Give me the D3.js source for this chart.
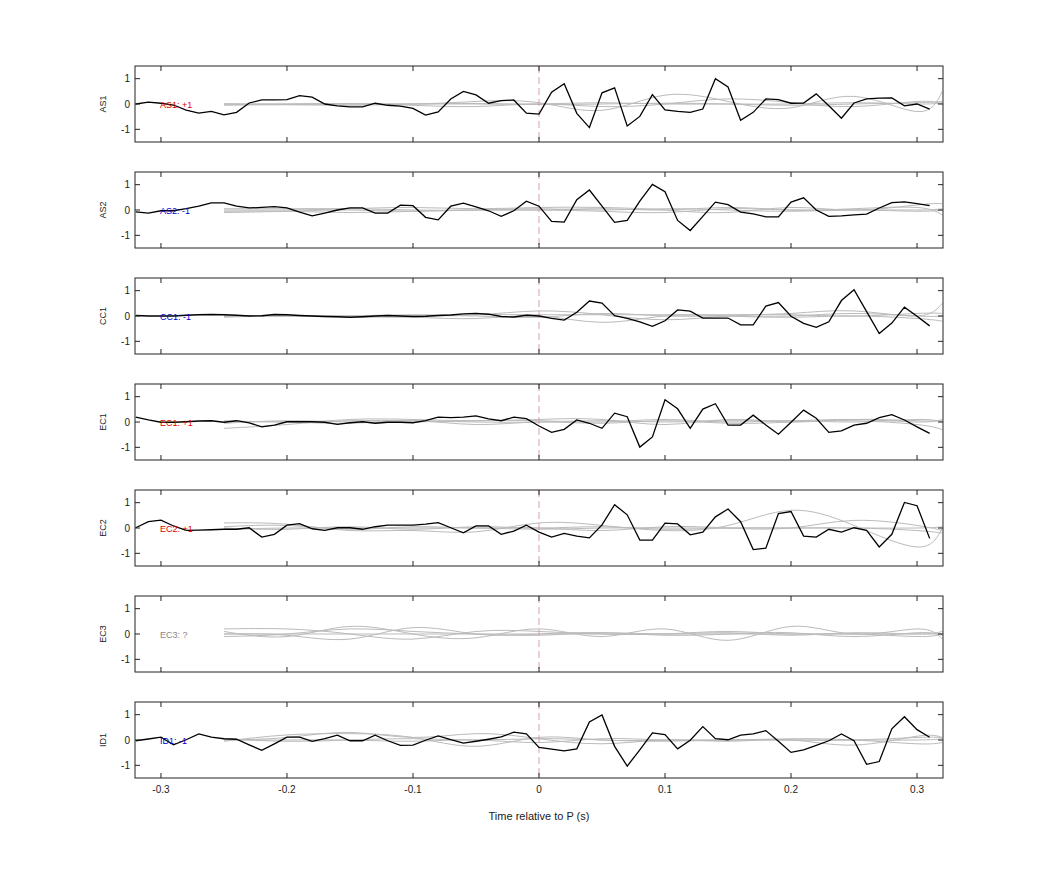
<!DOCTYPE html>
<html>
<head>
<meta charset="utf-8">
<script src="https://cdn.jsdelivr.net/npm/d3@7"></script>
<style>
  body { margin: 0; background: #fff; }
  text { font-family: "Liberation Sans", Arial, sans-serif; }
</style>
</head>
<body>
<div id="chart"></div>
<script>
// Channel names and labels
const channels = ["AS1", "AS2", "CC1", "EC1", "EC2", "EC3", "ID1"];
const polarity = ["AS1: +1", "AS2: -1", "CC1: -1", "EC1: +1", "EC2: +1", "EC3: ?", "ID1: -1"];
const polarityColor = ["#d00", "#00c", "#00c", "#d00", "#d00", "#888", "#00c"];

// Sample times for the black traces (-0.32 .. 0.31, step 0.01)
const times = d3.range(64).map(i => Math.round((-0.32 + i * 0.01) * 100) / 100);

const AS1 = [0, 0.07, 0.03, -0.04, -0.24, -0.36, -0.29, -0.43, -0.33, 0.04, 0.16, 0.16, 0.17, 0.33, 0.27, 0, -0.07, -0.11, -0.11, 0.03, -0.05, -0.08, -0.17, -0.44, -0.31, 0.2, 0.5, 0.36, 0.03, 0.13, 0.16, -0.36,
  -0.4, 0.47, 0.8, -0.37, -0.93, 0.44, 0.64, -0.87, -0.49, 0.37, -0.23, -0.29, -0.33, -0.2, 1.0, 0.67, -0.64, -0.33, 0.2, 0.17, 0.03, 0.04, 0.4, -0.07, -0.56, 0.04, 0.2, 0.23, 0.24, -0.07, 0, -0.2];
const AS2 = [-0.07, -0.12, -0.03, -0.03, 0.05, 0.15, 0.28, 0.28, 0.15, 0.08, 0.1, 0.13, 0.08, -0.08, -0.23, -0.12, 0, 0.08, 0.08, -0.12, -0.12, 0.19, 0.17, -0.29, -0.39, 0.15, 0.27, 0.12, -0.03, -0.25, -0.03, 0.35,
  0.15, -0.45, -0.48, 0.41, 0.79, 0.15, -0.49, -0.41, 0.35, 1.01, 0.72, -0.41, -0.81, -0.25, 0.31, 0.21, -0.08, -0.15, -0.27, -0.27, 0.31, 0.48, 0, -0.25, -0.23, -0.19, -0.16, 0.08, 0.29, 0.32, 0.25, 0.17];
const CC1 = [0.02, 0, 0, 0, 0.03, 0.05, 0.06, 0.05, 0.03, 0, 0.01, 0.06, 0.05, 0.02, 0, -0.02, -0.03, -0.05, -0.03, 0, 0.02, 0, -0.02, -0.01, 0.02, 0.04, 0.08, 0.1, 0.07, -0.02, -0.04, 0.03,
  0, -0.09, -0.16, 0.15, 0.59, 0.51, 0.01, -0.09, -0.23, -0.41, -0.19, 0.24, 0.19, -0.08, -0.08, -0.08, -0.35, -0.35, 0.39, 0.53, -0.01, -0.29, -0.45, -0.23, 0.61, 1.04, 0.17, -0.69, -0.28, 0.35, -0.01, -0.39];
const EC1 = [0.19, 0.08, -0.01, -0.01, 0.01, 0.04, 0.05, -0.01, 0.05, -0.03, -0.19, -0.12, 0.01, 0.01, 0.01, -0.01, -0.09, -0.03, 0.01, -0.05, -0.01, -0.01, -0.03, 0.05, 0.19, 0.17, 0.19, 0.24, 0.12, 0.05, 0.19, 0.13,
  -0.16, -0.41, -0.29, 0.08, -0.05, -0.25, 0.35, 0.21, -0.99, -0.59, 0.88, 0.52, -0.25, 0.51, 0.72, -0.12, -0.12, 0.27, -0.12, -0.48, -0.01, 0.47, 0.15, -0.41, -0.35, -0.12, -0.05, 0.17, 0.29, 0.08, -0.19, -0.45];
const EC2 = [0.01, 0.25, 0.31, 0.08, -0.09, -0.08, -0.07, -0.05, -0.05, 0.01, -0.36, -0.25, 0.11, 0.17, -0.03, -0.09, 0.01, 0.01, -0.05, 0.05, 0.11, 0.11, 0.11, 0.15, 0.21, 0.01, -0.19, 0.08, 0.08, -0.25, -0.12, 0.11,
  -0.16, -0.36, -0.21, -0.32, -0.39, 0.12, 0.92, 0.52, -0.48, -0.48, 0.19, 0.16, -0.27, -0.16, 0.44, 0.75, 0.25, -0.85, -0.8, 0.57, 0.65, -0.32, -0.36, -0.05, -0.16, 0.01, -0.09, -0.75, -0.25, 1.01, 0.88, -0.41];
const ID1 = [-0.03, 0.04, 0.11, -0.19, 0.01, 0.24, 0.11, 0.05, 0.03, -0.19, -0.41, -0.15, 0.11, 0.11, -0.05, 0.05, 0.19, -0.03, -0.03, 0.19, -0.03, -0.21, -0.2, -0.01, 0.16, 0.01, -0.12, -0.05, 0.03, 0.12, 0.31, 0.24,
  -0.29, -0.36, -0.43, -0.35, 0.71, 0.99, -0.25, -1.03, -0.39, 0.28, 0.21, -0.35, -0.01, 0.53, 0.05, 0.01, 0.19, 0.24, 0.37, -0.05, -0.49, -0.39, -0.21, -0.03, 0.24, -0.03, -0.96, -0.85, 0.44, 0.92, 0.41, 0.11];
const blackSeries = [AS1, AS2, CC1, EC1, EC2, null, ID1];

// Grey reference traces, sampled every 0.05 s and smoothed by the curve
const greyTimes = [-0.25, -0.2, -0.15, -0.1, -0.05, 0, 0.05, 0.1, 0.15, 0.2, 0.25, 0.3, 0.32];
const greySeries = [
  [[0, 0, 0.02, 0, 0.1, 0.05, -0.25, 0.35, 0.1, -0.15, 0.3, -0.3, 0.5],
   [0, -0.02, 0, -0.05, -0.1, 0, -0.1, 0, 0.2, 0.05, -0.1, 0.1, 0],
   [0, 0, 0, 0, 0, 0, 0.05, 0, 0, 0, 0.05, 0, 0.05],
   [-0.05, -0.03, -0.05, 0, 0.02, -0.02, 0, 0.03, 0, -0.05, 0, 0.05, 0.1]],
  [[0, 0, 0.05, 0.1, 0.05, 0.1, 0.1, 0, -0.1, 0.1, 0, 0.2, 0.25],
   [-0.1, -0.05, 0, -0.05, 0, 0, -0.05, -0.1, 0.05, 0, 0.05, 0.1, -0.2],
   [0.05, 0.05, 0.05, 0, 0, 0.05, 0, 0.05, 0, -0.05, 0, 0, 0.05],
   [-0.05, -0.05, -0.1, -0.05, 0, 0, 0.05, 0, 0.1, 0, 0, -0.05, 0]],
  [[0, 0, 0, 0.05, 0.05, 0.2, 0.05, -0.15, 0, 0.1, 0.2, 0, 0.5],
   [-0.05, 0, -0.05, -0.05, -0.1, 0, -0.25, 0, 0, -0.05, 0, -0.1, -0.2],
   [0, 0, 0, 0, 0.05, 0.05, 0.05, 0.05, 0.05, 0.05, 0, 0.1, 0.1],
   [0, 0.02, 0, 0, 0, -0.05, 0.1, 0, 0, 0, 0.1, 0, 0]],
  [[-0.25, -0.1, 0.1, 0.1, 0.05, 0.1, 0.1, -0.1, 0.1, 0, 0.1, 0.05, 0.05],
   [0, 0, -0.05, 0.05, -0.1, 0, -0.05, 0.05, -0.05, 0, 0.05, -0.1, -0.3],
   [-0.05, 0.05, 0, 0, 0.05, 0.05, 0, 0.1, 0, 0.05, 0, 0.1, 0],
   [0.05, 0, 0.05, 0.05, 0, 0, 0.05, 0, 0.05, 0.05, 0.1, 0, 0.1]],
  [[0.2, 0.15, -0.1, -0.1, -0.15, 0.2, 0.1, -0.1, 0.1, 0.7, 0.1, -0.75, 0],
   [0.05, 0.1, -0.05, 0.05, 0, 0, -0.1, 0.05, 0, 0, 0.3, 0.1, -0.1],
   [-0.05, 0, 0, 0, 0, -0.05, 0, 0, 0, 0, 0, 0, 0.05],
   [0, -0.05, 0.05, -0.05, 0.05, 0, 0.05, -0.05, 0, 0, 0, -0.1, -0.2]],
  [[0.2, 0.2, 0, -0.2, 0.1, 0.1, 0, 0, 0.1, 0, 0, -0.1, 0],
   [0.1, -0.1, 0.3, 0, -0.15, 0.2, -0.1, 0.2, -0.25, 0.3, 0, 0.2, -0.2],
   [-0.1, 0, 0.2, 0.1, 0, -0.05, 0.05, 0, 0.05, -0.05, 0.05, 0, 0.1],
   [0, -0.05, -0.2, 0.25, 0, 0, 0.05, -0.05, 0, 0.05, -0.1, 0.05, -0.05],
   [0, 0, 0, 0, 0, 0, 0, 0, 0, 0, 0, 0, 0]],
  [[0, 0.1, 0.3, 0.1, 0.25, 0.05, -0.15, 0, -0.05, 0, -0.2, 0.15, 0.1],
   [-0.05, 0.2, 0.25, 0.1, -0.25, 0.1, 0, 0, 0, 0.05, 0, -0.15, -0.1],
   [0, 0, 0, -0.05, 0, -0.1, 0.05, 0, 0, 0, 0, 0.1, 0.1],
   [0.05, -0.05, 0, 0.05, 0, 0.05, 0, -0.05, 0, 0, 0, 0, 0.05]]
];

const xTicks = [-0.3, -0.2, -0.1, 0, 0.1, 0.2, 0.3];
const xTickLabels = ["-0.3", "-0.2", "-0.1", "0", "0.1", "0.2", "0.3"];
const yTicks = [-1, 0, 1];

// Layout
const left = 135, right = 943, top0 = 66, panelH = 76, step = 106;

const svg = d3.select("#chart").append("svg")
    .attr("width", 1042)
    .attr("height", 875);

const x = d3.scaleLinear().domain([-0.3206, 0.3206]).range([left, right]);
const y = d3.scaleLinear().domain([-1.5, 1.5]).range([panelH, 0]);

const line = d3.line().x((d, i) => x(times[i])).y(d => y(d));
const greyLine = d3.line().x((d, i) => x(greyTimes[i])).y(d => y(d)).curve(d3.curveNatural);

channels.forEach((ch, p) => {
    const g = svg.append("g").attr("transform", `translate(0,${top0 + p * step})`);

    g.append("clipPath").attr("id", "clip" + p)
        .append("rect").attr("x", left).attr("y", 0).attr("width", right - left).attr("height", panelH);

    const plot = g.append("g").attr("clip-path", `url(#clip${p})`);

    greySeries[p].forEach(s => {
        plot.append("path").attr("d", greyLine(s))
            .attr("fill", "none").attr("stroke", "#bbb").attr("stroke-width", 1);
    });

    // onset marker
    plot.append("line")
        .attr("x1", x(0)).attr("x2", x(0)).attr("y1", 0).attr("y2", panelH)
        .attr("stroke", "#d9a0a0").attr("stroke-dasharray", "7,4").attr("stroke-width", 1);

    if (blackSeries[p]) {
        plot.append("path").attr("d", line(blackSeries[p]))
            .attr("fill", "none").attr("stroke", "#000").attr("stroke-width", 1.3);
    }

    g.append("text")
        .attr("x", 160).attr("y", y(0) + 3.5)
        .attr("font-size", 9)
        .attr("fill", polarityColor[p])
        .text(polarity[p]);

    // frame
    g.append("rect").attr("x", left).attr("y", 0).attr("width", right - left).attr("height", panelH)
        .attr("fill", "none").attr("stroke", "#222").attr("stroke-width", 1);

    // inward ticks on all sides
    xTicks.forEach(t => {
        g.append("line").attr("x1", x(t)).attr("x2", x(t)).attr("y1", 0).attr("y2", 5).attr("stroke", "#222");
        g.append("line").attr("x1", x(t)).attr("x2", x(t)).attr("y1", panelH).attr("y2", panelH - 5).attr("stroke", "#222");
    });
    yTicks.forEach(t => {
        g.append("line").attr("x1", left).attr("x2", left + 5).attr("y1", y(t)).attr("y2", y(t)).attr("stroke", "#222");
        g.append("line").attr("x1", right).attr("x2", right - 5).attr("y1", y(t)).attr("y2", y(t)).attr("stroke", "#222");
        g.append("text").attr("x", left - 5).attr("y", y(t) + 3.5)
            .attr("text-anchor", "end").attr("font-size", 10).attr("fill", "#222")
            .text(t);
    });

    g.append("text")
        .attr("transform", `translate(106,${panelH / 2}) rotate(-90)`)
        .attr("text-anchor", "middle").attr("font-size", 9).attr("fill", "#222")
        .text(ch);

    if (p === channels.length - 1) {
        xTicks.forEach((t, i) => {
            g.append("text").attr("x", x(t)).attr("y", panelH + 15)
                .attr("text-anchor", "middle").attr("font-size", 10).attr("fill", "#222")
                .text(xTickLabels[i]);
        });
        g.append("text").attr("x", x(0)).attr("y", panelH + 42)
            .attr("text-anchor", "middle").attr("font-size", 11).attr("fill", "#222")
            .text("Time relative to P (s)");
    }
});
</script>
</body>
</html>
